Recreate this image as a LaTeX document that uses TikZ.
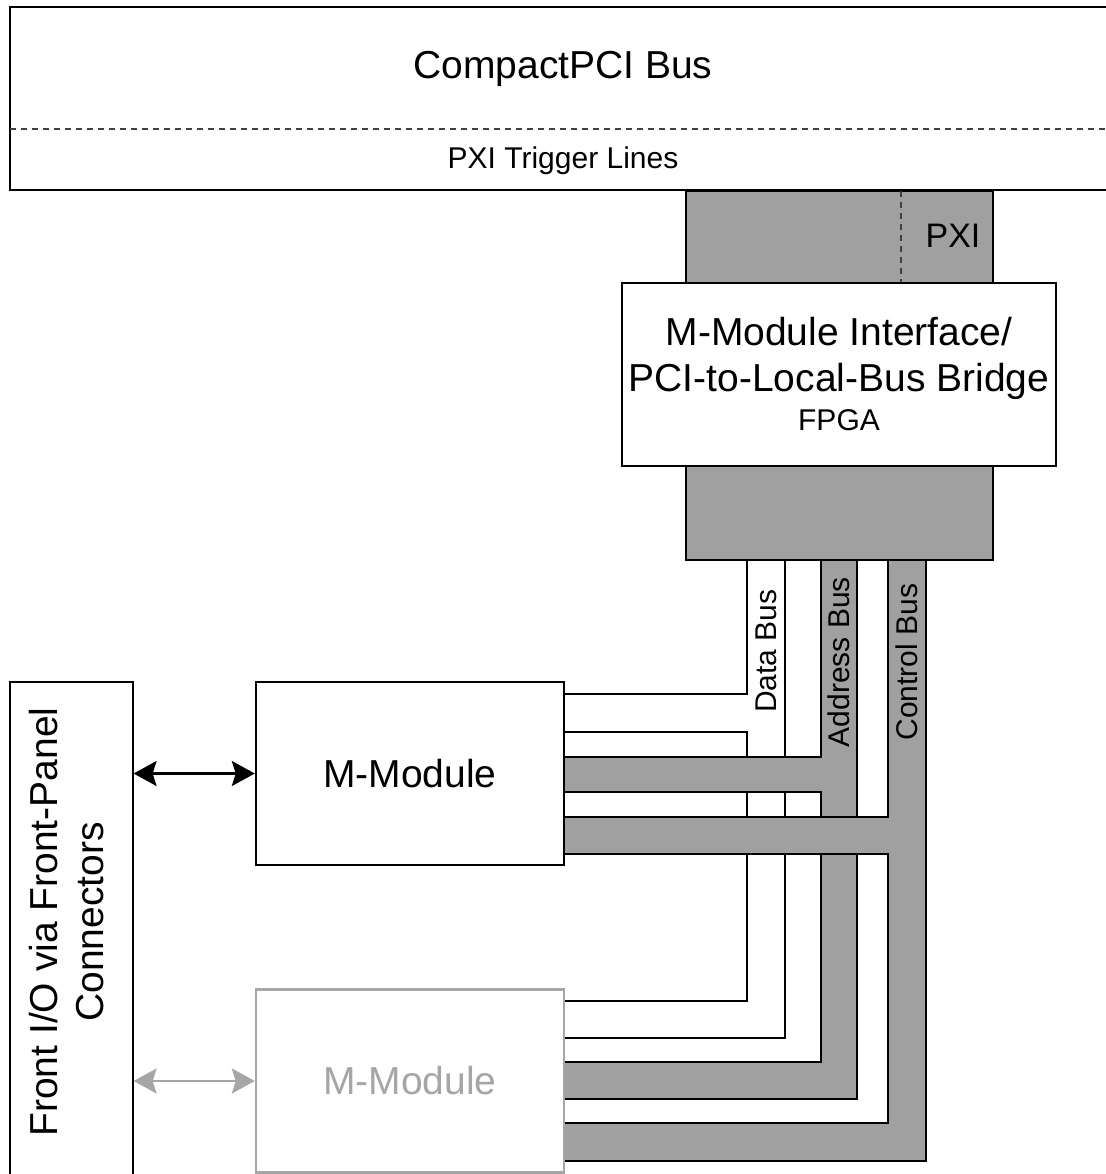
\documentclass[tikz,border=0pt]{standalone}
\usepackage{fontspec}
\setmainfont{Liberation Sans}
\usetikzlibrary{arrows.meta}

\definecolor{busgray}{RGB}{160,160,160}
\definecolor{offgray}{RGB}{166,166,166}
\definecolor{dashgray}{RGB}{64,64,64}

\newcommand{\bigtext}{\fontsize{19.5}{23}\selectfont}
\newcommand{\midtext}{\fontsize{15}{19.5}\selectfont}

\begin{document}
\begin{tikzpicture}[x=0.5pt, y=-0.5pt, line width=1.2pt,
  >={Stealth[length=11.5pt, width=12.5pt, inset=2pt]},
  module/.style={draw, fill=white, minimum width=154pt, minimum height=91.5pt, font=\bigtext},
  splitline/.style={dash pattern=on 3pt off 2.5pt, color=dashgray, line width=0.9pt},
  buslabel/.style={rotate=90, font=\midtext}]

  \useasboundingbox (0,0) rectangle (1106,1174);
  \clip (0,0) rectangle (1106,1174);

  %% Data bus (white).
  \fill[white] (564,694) -- (747,694) -- (747,560) -- (785,560) -- (785,1038)
  -- (564,1038) -- (564,1001) -- (747,1001) -- (747,732) -- (564,732) -- cycle;
  \draw (564,694) -| (747,560);
  \draw (785,560) |- (564,1038);
  \draw (564,732) -| (747,1001) -- (564,1001);
  \node (databus) [buslabel] at (766,651) {Data Bus};


  %% Address bus (grey).
  \fill[busgray] (564,757) -- (821,757) -- (821,560) -- (857,560) -- (857,1099)
  -- (564,1099) -- (564,1062) -- (821,1062) -- (821,792) -- (564,792) -- cycle;
  \draw (564,757) -| (821,560);
  \draw (857,560) |- (564,1099);
  \draw (564,792) -| (821,1062) -- (564,1062);
  \node (addrbus) [buslabel] at (839,662) {Address Bus};


  %% Control bus (grey).
  \fill[busgray] (564,817) -- (888,817) -- (888,560) -- (926,560) -- (926,1161)
  -- (564,1161) -- (564,1123) -- (888,1123) -- (888,854) -- (564,854) -- cycle;
  \draw (564,817) -| (888,560);
  \draw (926,560) |- (564,1161);
  \draw (564,854) -| (888,1123) -- (564,1123);
  \node (ctrlbus) [buslabel] at (907,662) {Control Bus};


  %% Local bus block behind the bridge.
  \draw[fill=busgray] (686,191) rectangle (993,560);
  \draw[splitline] (901,191) -- (901,283);
  \node (pxi) [anchor=base, font=\fontsize{17}{20}\selectfont] at (953,247) {PXI};

  \node (bridge) [draw, fill=white, minimum width=215pt, minimum height=91.5pt,
  align=center, font=\bigtext] at (839,374.5)
  {M-Module Interface/\\PCI-to-Local-Bus Bridge\\[-3.5pt]{\midtext FPGA}};


  %% CompactPCI backplane, open at the right.
  \draw (1112,7) -| (10,190) -- (1112,190);
  \draw[splitline] (10,129) -- (1112,129);
  \node (cpci) [anchor=base, font=\bigtext] at (563,78) {CompactPCI Bus};
  \node (trig) [anchor=base, font=\midtext] at (563,168) {PXI Trigger Lines};


  %% Front panel, open at the bottom.
  \draw (10,1180) |- (133,682) -- (133,1180);
  \coordinate (panel) at (133.6,682);
  \node (frontio) [rotate=90, align=center, font=\bigtext] at (67,922)
  {Front I/O via Front-Panel\\Connectors};


  %% M-Modules and their front I/O.
  \node (mmod1) [module] at (410,773.5) {M-Module};
  \node (mmod2) [module, draw=offgray, text=offgray] at (410,1081) {M-Module};
  \draw[<->] (mmod1.west -| panel) -- (mmod1.west);
  \draw[<->, offgray] (mmod2.west -| panel) -- (mmod2.west);

\end{tikzpicture}
\end{document}
